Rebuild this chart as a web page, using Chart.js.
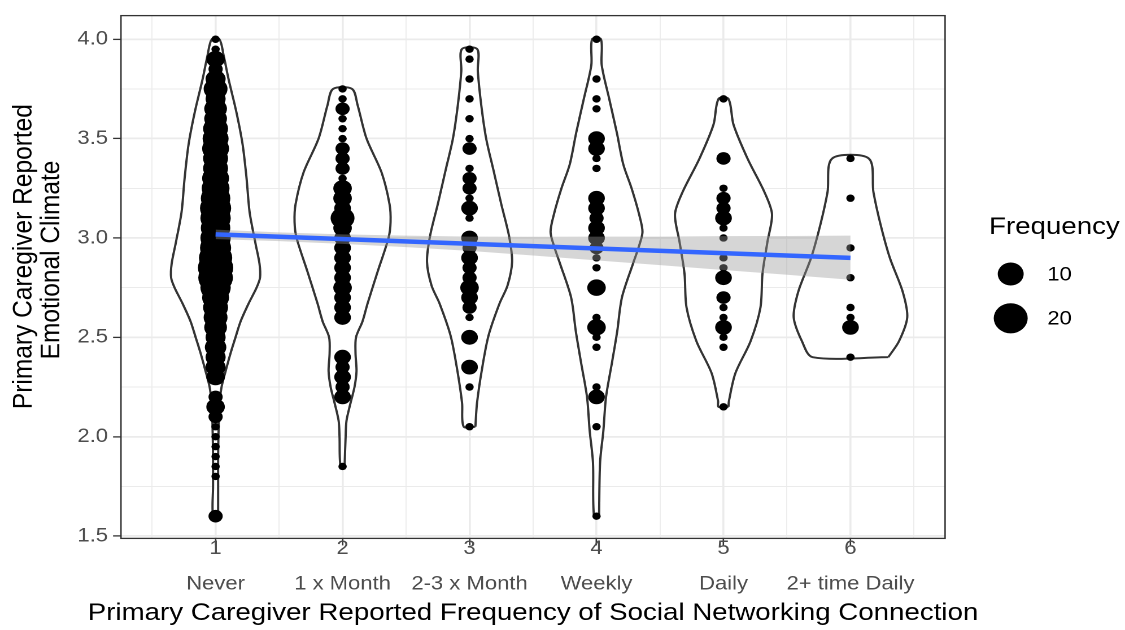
<!DOCTYPE html>
<html>
<head>
<meta charset="utf-8">
<script src="https://cdn.jsdelivr.net/npm/chart.js@4.4.1/dist/chart.umd.min.js"></script>
<style>
html,body{margin:0;padding:0;background:#fff;overflow:hidden;width:1125px;height:630px;}
#wrap{position:absolute;left:0;top:0;width:996px;height:630px;transform:scaleX(1.1295181);transform-origin:0 0;}
canvas{display:block;}
</style>
</head>
<body>
<div id="wrap"><canvas id="c" width="996" height="630" style="width:996px;height:630px"></canvas></div>
<script>
// ---------- data ----------
const categories = ['Never', '1 x Month', '2-3 x Month', 'Weekly', 'Daily', '2+ time Daily'];
const xMajorTicks = [1, 2, 3, 4, 5, 6];
const xMinorTicks = [0.5, 1.5, 2.5, 3.5, 4.5, 5.5, 6.5];
const yMajorTicks = [1.5, 2.0, 2.5, 3.0, 3.5, 4.0];
const yMinorTicks = [1.75, 2.25, 2.75, 3.25, 3.75];

const xTitle = 'Primary Caregiver Reported Frequency of Social Networking Connection';
const yTitle = ['      Primary Caregiver Reported', '     Emotional Climate'];
const legendTitle = 'Frequency';
const legendFreqs = [10, 20];

// [score, frequency]
const pointsNever = [[4.00,1],[3.95,1],[3.90,4],[3.85,2],[3.80,5],[3.75,8],[3.70,5],[3.65,7],[3.60,7],[3.55,9],[3.50,10],[3.45,11],[3.40,9],[3.35,9],[3.30,11],[3.25,12],[3.20,14],[3.15,16],[3.10,15],[3.05,14],[3.00,15],[2.95,16],[2.90,19],[2.85,22],[2.80,21],[2.75,15],[2.70,11],[2.65,9],[2.60,8],[2.55,7],[2.50,5],[2.45,6],[2.40,5],[2.35,5],[2.30,4],[2.20,2],[2.15,4],[2.10,2],[2.05,1],[2.00,1],[1.95,1],[1.90,1],[1.85,1],[1.80,1],[1.60,2]];
const pointsMonth = [[3.75,1],[3.70,1],[3.65,2],[3.60,1],[3.55,1],[3.50,1],[3.45,2],[3.40,2],[3.35,2],[3.30,1],[3.25,4],[3.20,4],[3.15,3],[3.10,8],[3.05,4],[3.00,3],[2.95,3],[2.90,3],[2.85,3],[2.80,3],[2.75,4],[2.70,3],[2.65,3],[2.60,3],[2.40,3],[2.35,2],[2.30,3],[2.25,2],[2.20,3],[1.85,1]];
const points23Month = [[3.95,1],[3.90,1],[3.80,1],[3.70,1],[3.60,1],[3.50,1],[3.45,2],[3.35,1],[3.30,2],[3.25,2],[3.20,1],[3.15,3],[3.10,1],[3.00,3],[2.95,2],[2.90,3],[2.85,2],[2.80,2],[2.75,4],[2.70,3],[2.65,2],[2.60,1],[2.50,3],[2.35,3],[2.25,1],[2.05,1]];
const pointsWeekly = [[4.00,1],[3.80,1],[3.70,1],[3.65,1],[3.50,3],[3.45,3],[3.40,1],[3.35,1],[3.20,3],[3.15,3],[3.10,2],[3.05,3],[3.00,3],[2.95,2],[2.90,1],[2.85,1],[2.75,4],[2.60,1],[2.55,4],[2.50,1],[2.45,1],[2.25,1],[2.20,3],[2.05,1],[1.60,1]];
const pointsDaily = [[3.70,1],[3.40,2],[3.25,1],[3.20,2],[3.15,2],[3.10,3],[3.05,1],[3.00,1],[2.90,1],[2.85,1],[2.80,3],[2.70,2],[2.65,1],[2.60,1],[2.55,3],[2.50,1],[2.45,1],[2.15,1]];
const points2Daily = [[3.40,1],[3.20,1],[2.95,1],[2.80,1],[2.65,1],[2.60,1],[2.55,3],[2.40,1]];
const groupPoints = [pointsNever, pointsMonth, points23Month, pointsWeekly, pointsDaily, points2Daily];

// violin outlines: [score, half-width in x units], top to bottom
const violinNever = [[4.00,0.03],[3.92,0.063],[3.80,0.102],[3.63,0.165],[3.47,0.213],[3.30,0.244],[3.13,0.268],[2.97,0.315],[2.87,0.346],[2.80,0.350],[2.75,0.323],[2.67,0.260],[2.58,0.197],[2.50,0.157],[2.42,0.118],[2.33,0.079],[2.25,0.047],[2.17,0.031],[2.05,0.024],[1.90,0.02],[1.75,0.02],[1.60,0.02]];
const violinMonth = [[3.75,0.075],[3.67,0.118],[3.50,0.189],[3.33,0.307],[3.17,0.370],[3.08,0.378],[3.00,0.362],[2.83,0.276],[2.67,0.197],[2.58,0.157],[2.50,0.106],[2.42,0.102],[2.33,0.110],[2.25,0.094],[2.17,0.063],[2.08,0.031],[2.00,0.024],[1.85,0.016]];
const violin23Month = [[3.95,0.061],[3.84,0.065],[3.67,0.092],[3.50,0.131],[3.34,0.189],[3.17,0.250],[3.01,0.311],[2.88,0.335],[2.76,0.299],[2.67,0.236],[2.51,0.150],[2.34,0.098],[2.17,0.059],[2.05,0.046]];
const violinWeekly = [[4.00,0.035],[3.87,0.041],[3.70,0.100],[3.53,0.160],[3.37,0.211],[3.25,0.276],[3.12,0.335],[3.03,0.362],[2.95,0.330],[2.87,0.287],[2.70,0.200],[2.53,0.163],[2.37,0.121],[2.20,0.075],[2.03,0.054],[1.87,0.028],[1.60,0.02]];
const violinDaily = [[3.70,0.039],[3.57,0.079],[3.40,0.189],[3.23,0.323],[3.12,0.382],[2.98,0.346],[2.82,0.307],[2.65,0.291],[2.48,0.213],[2.32,0.094],[2.18,0.043],[2.15,0.039]];
const violin2Daily = [[3.40,0.144],[3.23,0.181],[3.07,0.236],[2.90,0.310],[2.73,0.411],[2.60,0.447],[2.48,0.382],[2.40,0.298]];
const groupViolins = [violinNever, violinMonth, violin23Month, violinWeekly, violinDaily, violin2Daily];

// linear fit and its confidence band
const fitX = [1, 6];
const fitY = [3.018, 2.900];
const bandX = [1, 1.5, 2, 2.5, 3, 3.5, 4, 4.5, 5, 5.5, 6];
const bandUpper = [3.042, 3.028, 3.018, 3.012, 3.007, 3.006, 3.007, 3.007, 3.009, 3.010, 3.012];
const bandLower = [2.994, 2.984, 2.970, 2.954, 2.935, 2.912, 2.887, 2.863, 2.839, 2.815, 2.790];

// ---------- styling helpers ----------
const FONT = '"Liberation Sans", Arial, Helvetica, sans-serif';
function radiusFor(f) { return 3.7 + 2.6 * Math.sqrt(Math.max(f - 1, 0)); }
function isMajorX(v) { return xMajorTicks.includes(v); }
function isMajorY(v) { return yMajorTicks.includes(v); }

// ---------- datasets ----------
const datasets = [];
datasets.push({
  type: 'line', label: 'fit', order: 1,
  data: fitX.map((x, i) => ({ x: x, y: fitY[i] })),
  borderColor: '#3366FF', borderWidth: 4.5, pointRadius: 0, fill: false, tension: 0, borderCapStyle: 'butt'
});
datasets.push({
  type: 'line', label: 'band upper', order: 2,
  data: bandX.map((x, i) => ({ x: x, y: bandUpper[i] })),
  borderColor: 'rgba(0,0,0,0)', borderWidth: 0, pointRadius: 0, fill: false, tension: 0
});
datasets.push({
  type: 'line', label: 'band lower', order: 2,
  data: bandX.map((x, i) => ({ x: x, y: bandLower[i] })),
  borderColor: 'rgba(0,0,0,0)', borderWidth: 0, pointRadius: 0, tension: 0,
  fill: '-1', backgroundColor: 'rgba(153,153,153,0.4)'
});
const bubbleData = [];
groupPoints.forEach((pts, gi) => {
  pts.forEach(p => bubbleData.push({ x: xMajorTicks[gi], y: p[0], r: radiusFor(p[1]) }));
});
datasets.push({
  type: 'bubble', label: 'points', order: 3,
  data: bubbleData, backgroundColor: '#000000', borderWidth: 0, hoverRadius: 0
});
groupViolins.forEach((prof, gi) => {
  const c = xMajorTicks[gi];
  const right = prof.slice().reverse().map(p => ({ x: c + p[1], y: p[0] }));
  const left = prof.map(p => ({ x: c - p[1], y: p[0] }));
  const poly = right.concat(left);
  poly.push(right[0]);
  datasets.push({
    type: 'line', label: 'violin ' + categories[gi], order: 4,
    data: poly, borderColor: '#333333', borderWidth: 2, pointRadius: 0, tension: 0.3,
    fill: 'shape', backgroundColor: '#ffffff'
  });
});

// ---------- overlay: panel border, x title, size legend ----------
const overlayPlugin = {
  id: 'overlay',
  afterDraw(chart) {
    const ctx = chart.ctx, a = chart.chartArea;
    ctx.save();
    ctx.strokeStyle = '#333333';
    ctx.lineWidth = 1.3;
    ctx.strokeRect(a.left, a.top, a.right - a.left, a.bottom - a.top);
    ctx.fillStyle = '#000000';
    ctx.textBaseline = 'middle';
    ctx.textAlign = 'center';
    ctx.font = '24.5px ' + FONT;
    ctx.fillText(xTitle, (a.left + a.right) / 2, 613);
    ctx.textAlign = 'left';
    ctx.fillText(legendTitle, 875.6, 227);
    const keyY = [274, 318.3];
    ctx.font = '19.5px ' + FONT;
    legendFreqs.forEach((f, i) => {
      ctx.beginPath();
      ctx.arc(894.8, keyY[i], radiusFor(f), 0, Math.PI * 2);
      ctx.fill();
      ctx.fillText(String(f), 927.2, keyY[i] + 1);
    });
    ctx.restore();
  }
};

new Chart(document.getElementById('c'), {
  type: 'line',
  data: { datasets: datasets },
  plugins: [overlayPlugin],
  options: {
    responsive: false,
    devicePixelRatio: 2,
    animation: false,
    events: [],
    layout: { padding: { left: 0, right: 159.3, top: 13.3, bottom: 0 } },
    plugins: { legend: { display: false }, tooltip: { enabled: false }, title: { display: false } },
    scales: {
      x: {
        type: 'linear', min: 0.255, max: 6.745,
        afterBuildTicks: (s) => { s.ticks = xMinorTicks.concat(xMajorTicks).sort((a, b) => a - b).map(v => ({ value: v })); },
        afterFit: (s) => { s.height = 91.6; },
        border: { display: false },
        grid: {
          color: '#EBEBEB',
          lineWidth: (ctx) => (ctx.tick && isMajorX(ctx.tick.value)) ? 1.8 : 0.9,
          tickColor: (ctx) => (ctx.tick && isMajorX(ctx.tick.value)) ? '#333333' : 'rgba(0,0,0,0)',
          tickLength: 7, tickWidth: 1.3
        },
        ticks: {
          autoSkip: false, maxRotation: 0, minRotation: 0, padding: -14.75,
          color: '#4D4D4D', font: { family: FONT, size: 19.5, lineHeight: 1.83 },
          callback: (v) => isMajorX(v) ? [String(v), categories[v - 1]] : ''
        },
        title: { display: false }
      },
      y: {
        type: 'linear', min: 1.488, max: 4.119,
        afterBuildTicks: (s) => { s.ticks = yMinorTicks.concat(yMajorTicks).sort((a, b) => a - b).map(v => ({ value: v })); },
        afterFit: (s) => { s.width = 107.1; },
        border: { display: false },
        grid: {
          color: '#EBEBEB',
          lineWidth: (ctx) => (ctx.tick && isMajorY(ctx.tick.value)) ? 1.8 : 0.9,
          tickColor: (ctx) => (ctx.tick && isMajorY(ctx.tick.value)) ? '#333333' : 'rgba(0,0,0,0)',
          tickLength: 7, tickWidth: 1.3
        },
        ticks: {
          autoSkip: false, padding: 4.5,
          color: '#4D4D4D', font: { family: FONT, size: 19.5, lineHeight: 0.6 },
          callback: (v) => isMajorY(v) ? v.toFixed(1) : ''
        },
        title: {
          display: true, text: yTitle, color: '#000000',
          font: { family: FONT, size: 24.5, lineHeight: 1.0 },
          padding: { top: 9.2, bottom: 0 }
        }
      }
    }
  }
});
</script>
</body>
</html>
